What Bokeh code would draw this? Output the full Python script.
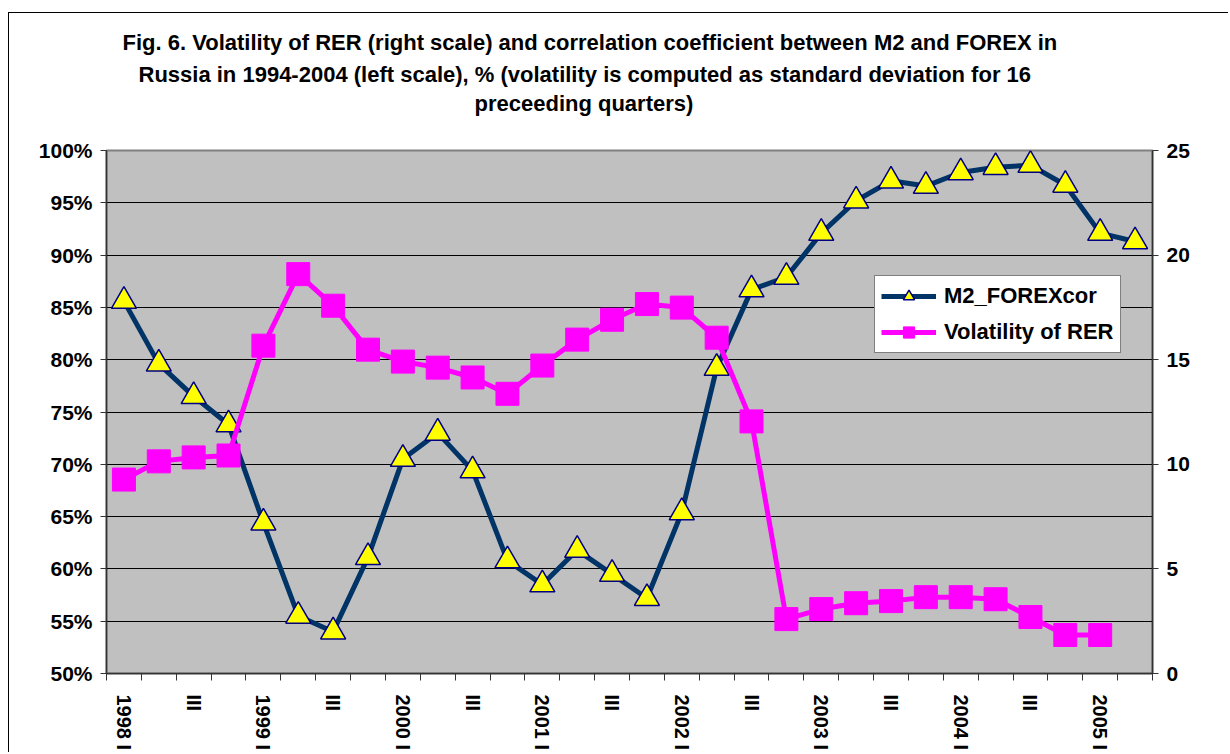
import math
from bokeh.plotting import figure
from bokeh.models import (Range1d, LinearAxis, FixedTicker, PrintfTickFormatter,
                          Legend, LegendItem, Title, ColumnDataSource)
from bokeh.embed import file_html
from bokeh.resources import INLINE

# ---- data ----
quarters = ["1998 I", "1998 II", "1998 III", "1998 IV",
            "1999 I", "1999 II", "1999 III", "1999 IV",
            "2000 I", "2000 II", "2000 III", "2000 IV",
            "2001 I", "2001 II", "2001 III", "2001 IV",
            "2002 I", "2002 II", "2002 III", "2002 IV",
            "2003 I", "2003 II", "2003 III", "2003 IV",
            "2004 I", "2004 II", "2004 III", "2004 IV",
            "2005 I", "2005 II"]

# correlation coefficient M2 / FOREX, % (left scale)
m2_forex_cor = [85.6, 79.6, 76.5, 73.8, 64.4, 55.5, 54.0, 61.1, 70.5, 73.0,
                69.4, 60.8, 58.5, 61.8, 59.5, 57.2, 65.4, 79.2, 86.7, 87.9,
                92.1, 95.2, 97.1, 96.6, 97.9, 98.4, 98.6, 96.7, 92.1, 91.3]

# volatility of RER (right scale)
volatility_rer = [9.27, 10.14, 10.33, 10.42, 15.67, 19.09, 17.58, 15.48, 14.91, 14.62,
                  14.15, 13.37, 14.72, 15.96, 16.91, 17.66, 17.49, 16.05, 12.05, 2.60,
                  3.08, 3.36, 3.46, 3.65, 3.65, 3.55, 2.70, 1.84, 1.84, None]

x_tick_labels = ["1998 I", "III", "1999 I", "III", "2000 I", "III", "2001 I", "III",
                 "2002 I", "III", "2003 I", "III", "2004 I", "III", "2005 I"]

left_ticks = [50, 55, 60, 65, 70, 75, 80, 85, 90, 95, 100]
right_ticks = [0, 5, 10, 15, 20, 25]

title_lines = [
    "Fig. 6. Volatility of RER (right scale) and correlation coefficient between M2 and FOREX in",
    "Russia in 1994-2004 (left scale),  % (volatility is computed as standard deviation for 16",
    "preceeding quarters)",
]
# layout of title lines: pixel offset from frame left, standoff
title_offsets = [16, 32, 368]
title_standoffs = [8, 3, 0]

FONT = "Liberation Sans"

idx = list(range(len(quarters)))
src = ColumnDataSource(dict(
    x=idx,
    m2=m2_forex_cor,
    vol=[float("nan") if v is None else v for v in volatility_rer],
))

p = figure(width=1220, height=740,
           x_range=Range1d(-0.5, len(quarters) - 0.5),
           y_range=Range1d(50, 100),
           output_backend="svg", toolbar_location=None, title=None,
           min_border_left=97, min_border_right=77,
           min_border_top=137, min_border_bottom=79,
           background_fill_color="#C0C0C0", border_fill_color="white",
           margin=(12, 0, 0, 8),
           styles={"border-left": "1px solid #000", "border-top": "1px solid #000"})

p.outline_line_color = "#808080"
p.outline_line_width = 2
p.xgrid.grid_line_color = None
p.ygrid.grid_line_color = "#000000"
p.ygrid.grid_line_width = 1

p.extra_y_ranges = {"vol": Range1d(0, 25)}

# left axis
ya = p.yaxis[0]
ya.ticker = FixedTicker(ticks=left_ticks)
ya.formatter = PrintfTickFormatter(format="%d%%")

# right axis
ra = LinearAxis(y_range_name="vol", ticker=FixedTicker(ticks=right_ticks))
p.add_layout(ra, "right")

for ax in (ya, ra):
    ax.axis_line_color = "#333333"
    ax.axis_line_width = 1.5
    ax.major_tick_line_color = "#333333"
    ax.major_tick_out = 6
    ax.major_tick_in = 0
    ax.minor_tick_out = 0
    ax.minor_tick_in = 0
    ax.major_label_text_font = FONT
    ax.major_label_text_font_style = "bold"
    ax.major_label_text_font_size = "21px"
    ax.major_label_text_color = "black"
    ax.major_label_standoff = 8

# x axis
xa = p.xaxis[0]
xa.ticker = FixedTicker(ticks=idx[::2], minor_ticks=[i - 0.5 for i in range(len(quarters) + 1)])
xa.major_label_overrides = {i: lab for i, lab in zip(idx[::2], x_tick_labels)}
xa.major_label_orientation = -math.pi / 2
xa.axis_line_color = "#333333"
xa.axis_line_width = 1.5
xa.major_tick_out = 0
xa.major_tick_in = 0
xa.minor_tick_out = 7
xa.minor_tick_in = 0
xa.minor_tick_line_color = "#333333"
xa.major_label_text_font = FONT
xa.major_label_text_font_style = "bold"
xa.major_label_text_font_size = "20px"
xa.major_label_text_color = "black"
xa.major_label_standoff = 14

# series
r1 = p.line("x", "m2", source=src, line_color="#003366", line_width=5)
r2 = p.scatter("x", "m2", source=src, marker="triangle", size=25,
               fill_color="#FFFF00", line_color="#000080", line_width=1.5)
r3 = p.line("x", "vol", source=src, y_range_name="vol", line_color="#FF00FF", line_width=5)
r4 = p.scatter("x", "vol", source=src, y_range_name="vol", marker="square", size=23,
               fill_color="#FF00FF", line_color="#FF00FF")

legend = Legend(items=[LegendItem(label="M2_FOREXcor", renderers=[r1, r2]),
                       LegendItem(label="Volatility of RER", renderers=[r3, r4])],
                location=(768, 320), orientation="vertical",
                background_fill_color="white", background_fill_alpha=1.0,
                border_line_color="black", border_line_width=1,
                label_text_font=FONT, label_text_font_style="bold",
                label_text_font_size="22px", label_text_color="black",
                glyph_width=55, glyph_height=28, label_height=28,
                spacing=8, padding=6, margin=0, label_standoff=8)
p.add_layout(legend, "center")

# title: spacer nearest the frame, then lines 3, 2, 1 stacked upward
p.add_layout(Title(text=" ", text_font=FONT, text_font_size="22px", standoff=8), "above")
for text, off, so in reversed(list(zip(title_lines, title_offsets, title_standoffs))):
    p.add_layout(Title(text=text, align="left", offset=off, text_font=FONT,
                       text_font_style="bold", text_font_size="22px",
                       text_color="black", standoff=so), "above")

open("out.html", "w").write(file_html(p, INLINE))
